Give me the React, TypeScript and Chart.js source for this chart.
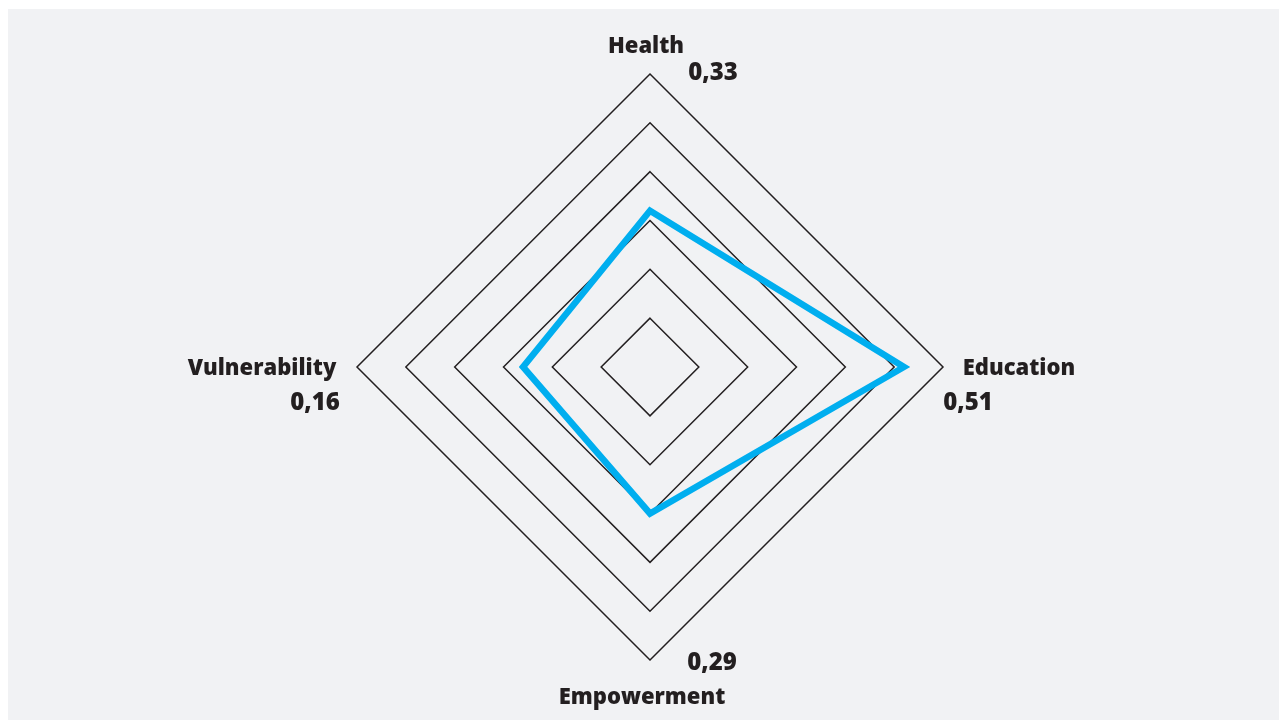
import React, { useEffect, useRef } from "react";
import { Chart, registerables } from "chart.js";

Chart.register(...registerables);

const categories = ["Health", "Education", "Empowerment", "Vulnerability"];
const valueLabels = ["0,33", "0,51", "0,29", "0,16"];
const plottedValues = [0.32, 0.52, 0.3, 0.26];
const gridMax = 0.6;
const gridStep = 0.1;

const TEXT_COLOR = "#231f20";
const NAME_FONT = "800 22px 'Open Sans', 'DejaVu Sans', sans-serif";
const VALUE_FONT = "800 24px 'Open Sans', 'DejaVu Sans', sans-serif";

// offsets (px) of category / value labels from the radar centre
const labelOffsets = [
  { name: [-4, -320], value: [63, -294] },
  { name: [369, 2], value: [318, 36] },
  { name: [-8, 331], value: [62, 296] },
  { name: [-388, 2], value: [-335, 36] },
];

const labelsPlugin = {
  id: "axisLabels",
  afterDraw(chart: any) {
    const scale = chart.scales.r;
    const ctx = chart.ctx;
    const cx = scale.xCenter;
    const cy = scale.yCenter;
    ctx.save();
    ctx.fillStyle = TEXT_COLOR;
    ctx.textAlign = "center";
    ctx.textBaseline = "middle";
    categories.forEach((c, i) => {
      const o = labelOffsets[i];
      ctx.font = NAME_FONT;
      ctx.fillText(c, cx + o.name[0], cy + o.name[1]);
      ctx.font = VALUE_FONT;
      ctx.fillText(valueLabels[i], cx + o.value[0], cy + o.value[1]);
    });
    ctx.restore();
  },
};

export default function App() {
  const ref = useRef<HTMLCanvasElement | null>(null);
  useEffect(() => {
    document.body.style.overflow = "hidden";
    if (!ref.current) return;
    const chart = new Chart(ref.current, {
      type: "radar",
      data: {
        labels: categories,
        datasets: [
          {
            data: plottedValues,
            borderColor: "#00aeef",
            borderWidth: 6.5,
            borderJoinStyle: "miter",
            fill: false,
            pointRadius: 0,
            pointHoverRadius: 0,
            tension: 0,
          },
        ],
      },
      options: {
        animation: false,
        responsive: false,
        maintainAspectRatio: false,
        layout: { padding: { left: 14, right: 0, top: 65, bottom: 60 } },
        plugins: {
          legend: { display: false },
          tooltip: { enabled: false },
        },
        scales: {
          r: {
            min: 0,
            max: gridMax,
            ticks: { stepSize: gridStep, display: false },
            grid: { color: TEXT_COLOR, lineWidth: 1.5, circular: false },
            angleLines: { display: false },
            pointLabels: { display: false },
          },
        },
      },
      plugins: [labelsPlugin],
    });
    return () => chart.destroy();
  }, []);
  return (
    <div
      style={{
        position: "absolute",
        left: 8,
        top: 9,
        width: 1271,
        height: 711,
        background: "#f1f2f4",
      }}
    >
      <canvas ref={ref} width={1271} height={711} style={{ display: "block" }} />
    </div>
  );
}
